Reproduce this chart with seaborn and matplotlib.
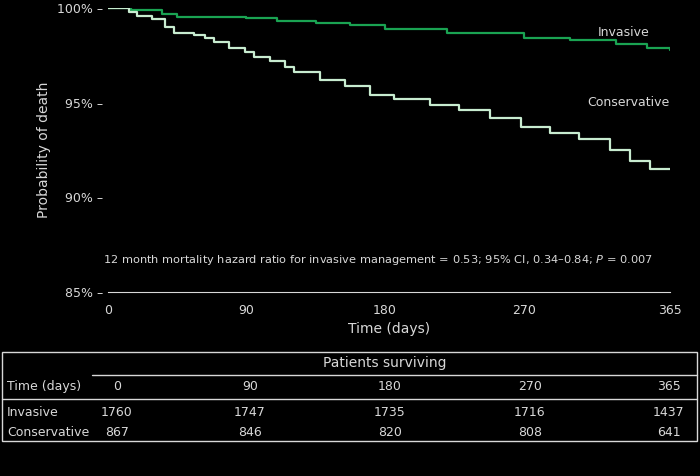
import pandas as pd
import matplotlib.pyplot as plt
import seaborn as sns

# (day, % probability)
inv_days = [0, 15, 35, 45, 90, 110, 135, 157, 180, 220, 270, 300, 330, 350, 365]
inv_vals = [100, 99.9, 99.7, 99.55, 99.45, 99.3, 99.2, 99.1, 98.9, 98.7, 98.4, 98.3, 98.1, 97.9, 97.8]
con_days = [0, 14, 19, 29, 37, 43, 56, 63, 69, 79, 89, 95, 105, 115, 121, 138, 154, 170,
            186, 209, 228, 248, 268, 287, 306, 326, 339, 352, 365]
con_vals = [100, 99.8, 99.6, 99.4, 99.0, 98.7, 98.6, 98.4, 98.2, 97.9, 97.7, 97.4, 97.2, 96.9,
            96.6, 96.2, 95.9, 95.4, 95.2, 94.9, 94.6, 94.2, 93.7, 93.4, 93.1, 92.5, 91.9, 91.5, 91.5]
tick_days = [0, 90, 180, 270, 365]
inv_n = [1760, 1747, 1735, 1716, 1437]
con_n = [867, 846, 820, 808, 641]

fg = '#d8d8d8'
df = pd.concat([pd.DataFrame({'day': inv_days, 'p': inv_vals, 'grp': 'Invasive'}),
                pd.DataFrame({'day': con_days, 'p': con_vals, 'grp': 'Conservative'})])

sns.set_style('white')
plt.rcParams['font.family'] = ['DejaVu Sans']
fig = plt.figure(figsize=(7, 4.76), dpi=100, facecolor='black')
ax = fig.add_axes([0.154, 0.387, 0.803, 0.596], facecolor='black')
sns.lineplot(data=df, x='day', y='p', hue='grp', drawstyle='steps-post',
             palette={'Invasive': '#1aa352', 'Conservative': '#c8ecd0'},
             linewidth=1.6, legend=False, ax=ax)
ax.set_xlim(0, 365)
ax.set_ylim(85, 100)
ax.set_yticks([85, 90, 95, 100])
ax.set_yticklabels(['85% –', '90% –', '95% –', '100% –'], color=fg, fontsize=9)
ax.tick_params(axis='y', length=0)
ax.set_xticks(tick_days)
ax.set_xticklabels([str(d) for d in tick_days], color=fg, fontsize=9)
ax.tick_params(axis='x', colors=fg, direction='out', length=5)
for s in ['top', 'right', 'left']:
    ax.spines[s].set_visible(False)
ax.spines['bottom'].set_color(fg)
ax.set_xlabel('Time (days)', color=fg, fontsize=10)
ax.set_ylabel('Probability of death', color=fg, fontsize=10)
ax.text(352, 98.55, 'Invasive', color=fg, fontsize=9, ha='right')
ax.text(365, 94.8, 'Conservative', color=fg, fontsize=9, ha='right')
ax.text(-3, 86.5, '12 month mortality hazard ratio for invasive management = 0.53; 95% CI, 0.34–0.84; $P$ = 0.007',
        color=fg, fontsize=8.2)

# table below
tx = [0.167, 0.357, 0.557, 0.757, 0.955]
fig.add_artist(plt.Rectangle((0.003, 0.073), 0.993, 0.187, fill=False, ec=fg, lw=1))
fig.text(0.55, 0.228, 'Patients surviving', color=fg, fontsize=10, ha='center')
fig.add_artist(plt.Line2D([0.132, 0.996], [0.213, 0.213], color=fg, lw=1))
fig.add_artist(plt.Line2D([0.003, 0.996], [0.162, 0.162], color=fg, lw=1))
rows = [('Time (days)', tick_days, 0.18), ('Invasive', inv_n, 0.126), ('Conservative', con_n, 0.085)]
for name, vals, y in rows:
    fig.text(0.01, y, name, color=fg, fontsize=9)
    for x, v in zip(tx, vals):
        fig.text(x, y, str(v), color=fg, fontsize=9, ha='center')

fig.savefig('out.png', dpi=100, facecolor='black')
